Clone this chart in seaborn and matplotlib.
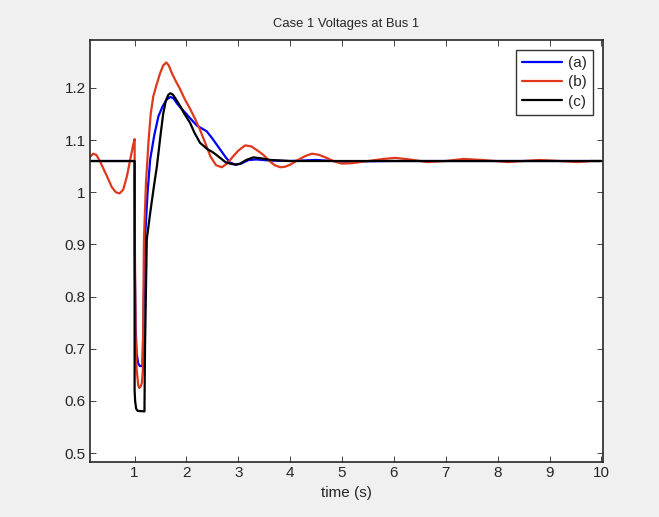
import pandas as pd
import seaborn as sns
from matplotlib import pyplot as plt

# Case 1 voltages at bus 1, three simulations (a), (b), (c)
t_a = [0.14, 1.0, 1.005, 1.02, 1.04, 1.07, 1.1, 1.15, 1.17, 1.19, 1.2, 1.25, 1.3,
       1.38, 1.46, 1.54, 1.62, 1.69, 1.75, 1.82, 1.88, 2.0, 2.07, 2.2, 2.39, 2.5,
       2.65, 2.75, 2.84, 2.95, 3.05, 3.2, 3.35, 3.6, 4.0, 4.5, 5.0, 6.0, 10.0]
v_a = [1.06, 1.06, 0.85, 0.74, 0.69, 0.672, 0.667, 0.667, 0.75, 0.86, 0.91, 1.0, 1.063,
       1.11, 1.146, 1.165, 1.178, 1.183, 1.18, 1.17, 1.163, 1.15, 1.142, 1.128, 1.117, 1.103,
       1.082, 1.068, 1.057, 1.053, 1.055, 1.062, 1.063, 1.061, 1.06, 1.062, 1.059, 1.06, 1.06]

t_b = [0.14, 0.2, 0.26, 0.33, 0.4, 0.48, 0.56, 0.64, 0.71, 0.78, 0.85, 0.92, 0.97, 1.0,
       1.005, 1.02, 1.04, 1.07, 1.09, 1.12, 1.14, 1.16, 1.17, 1.18, 1.22, 1.27, 1.31, 1.36,
       1.42, 1.49, 1.55, 1.61, 1.66, 1.72, 1.8, 1.88, 1.97, 2.07, 2.17, 2.26, 2.36, 2.46,
       2.57, 2.68, 2.78, 2.9, 3.0, 3.13, 3.25, 3.37, 3.48, 3.6, 3.7, 3.81, 3.9, 4.0, 4.15,
       4.3, 4.42, 4.55, 4.7, 4.85, 5.0, 5.2, 5.5, 5.8, 6.03, 6.3, 6.64, 7.0, 7.34, 7.7,
       8.19, 8.5, 8.8, 9.2, 9.54, 9.8, 10.0]
v_b = [1.068, 1.074, 1.072, 1.06, 1.045, 1.028, 1.01, 1.0, 0.998, 1.005, 1.03, 1.065, 1.09, 1.102,
       0.9, 0.72, 0.66, 0.63, 0.625, 0.628, 0.635, 0.66, 0.8, 0.91, 1.02, 1.1, 1.15, 1.184,
       1.205, 1.228, 1.243, 1.249, 1.243, 1.228, 1.212, 1.197, 1.178, 1.16, 1.14, 1.12, 1.095, 1.069,
       1.052, 1.048, 1.055, 1.069, 1.08, 1.09, 1.088, 1.08, 1.072, 1.06, 1.052, 1.048, 1.049, 1.053, 1.062,
       1.07, 1.074, 1.072, 1.066, 1.059, 1.055, 1.056, 1.06, 1.064, 1.066, 1.063, 1.058, 1.06, 1.064, 1.062,
       1.058, 1.06, 1.062, 1.06, 1.058, 1.06, 1.06]

t_c = [0.14, 1.0, 1.0, 1.01, 1.03, 1.06, 1.19, 1.2, 1.22, 1.235, 1.3, 1.37, 1.43, 1.5,
       1.55, 1.6, 1.65, 1.69, 1.74, 1.8, 1.88, 1.95, 2.07, 2.15, 2.26, 2.4, 2.52, 2.65,
       2.75, 2.84, 2.95, 3.04, 3.15, 3.29, 3.45, 3.62, 4.0, 10.0]
v_c = [1.06, 1.06, 0.62, 0.6, 0.585, 0.581, 0.58, 0.7, 0.82, 0.91, 0.96, 1.01, 1.05, 1.11,
       1.15, 1.175, 1.187, 1.19, 1.187, 1.178, 1.165, 1.152, 1.133, 1.115, 1.095, 1.083, 1.076, 1.066,
       1.058, 1.055, 1.053, 1.055, 1.062, 1.067, 1.065, 1.062, 1.06, 1.06]

rows = []
for name, ts, vs in [('(a)', t_a, v_a), ('(b)', t_b, v_b), ('(c)', t_c, v_c)]:
    for t, v in zip(ts, vs):
        rows.append({'time': t, 'V': v, 'case': name})
dataf = pd.DataFrame(rows)

sns.set_style('ticks')
plt.rcParams['font.family'] = ['Liberation Sans', 'DejaVu Sans']

fig = plt.figure(figsize=(6.59, 5.17), dpi=100, facecolor='#f0f0f0')
ax = fig.add_axes([90 / 659, 55 / 517, 513 / 659, 422 / 517])
ax.set_facecolor('white')

# sort=False keeps the vertical fault steps in order
sns.lineplot(data=dataf, x='time', y='V', hue='case', sort=False, estimator=None,
             units='case', palette=['#0000ff', '#e0381c', '#000000'], linewidth=1.6, ax=ax)

ax.set_xlim(0.14, 10.03)
ax.set_ylim(0.483, 1.292)
ax.set_xticks(range(1, 11))
ax.set_yticks([0.5, 0.6, 0.7, 0.8, 0.9, 1.0, 1.1, 1.2])
ax.set_yticklabels(['0.5', '0.6', '0.7', '0.8', '0.9', '1', '1.1', '1.2'])
ax.tick_params(direction='in', top=True, right=True, labelsize=11, length=4, width=0.7,
               color='#444444', pad=3)
for sp in ax.spines.values():
    sp.set_visible(True)
    sp.set_linewidth(1.2)
ax.set_xlabel('time (s)', fontsize=11, labelpad=4)
ax.set_ylabel('')
ax.set_title('Case 1 Voltages at Bus 1', fontsize=9.4, pad=9)

leg = ax.legend(loc='upper right', fontsize=11, frameon=True, fancybox=False,
                handlelength=2.6, handletextpad=0.4, borderaxespad=0.65,
                labelspacing=0.35, borderpad=0.4)
leg.get_frame().set_edgecolor('black')
leg.get_frame().set_linewidth(1.0)
for line in leg.get_lines():
    line.set_linewidth(1.6)

plt.savefig('out.png', dpi=100, facecolor=fig.get_facecolor())
plt.clf()
